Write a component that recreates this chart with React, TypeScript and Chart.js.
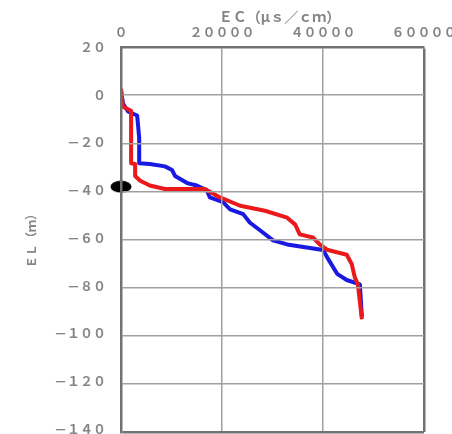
import React, { useEffect, useRef } from "react";
import { Chart, registerables } from "chart.js";

Chart.register(...registerables);

// Series values (EC in μS/cm, EL in m)
const redEC = [0, 200, 400, 2000, 2000, 2800, 2800, 3800, 5700, 8700, 16600, 19600, 23600, 28500, 32900, 34500, 35400, 38000, 39400, 40800, 44700, 45700, 46300, 46900, 47700];
const redEL = [2.5, -1.7, -5, -6.7, -28.7, -29, -34, -36, -38, -39.5, -39.5, -43, -46.5, -48.6, -51.5, -54.4, -58.5, -59.8, -62.8, -64.9, -67, -71, -76.5, -79.4, -94];

const blueEC = [0, 400, 1400, 3200, 3600, 3600, 5700, 8700, 10100, 10700, 13100, 15000, 17000, 17600, 20200, 21600, 24200, 25500, 28100, 30100, 32900, 36800, 40000, 40800, 42800, 44700, 47300, 47700];
const blueEL = [1.7, -3.7, -7, -8.7, -18, -28.7, -29, -30, -31.5, -34, -37, -38, -40, -43, -45, -48, -50, -53.5, -57.7, -61, -62.7, -64, -65, -68, -75, -77.6, -79.4, -93];

const markerEC = [0];
const markerEL = [-38.5];

// Axis ranges / tick steps
const xRange = [0, 60000];
const xStep = 20000;
const yRange = [-140, 20];
const yStep = 20;

const xTitle = "　ＥＣ（μｓ／ｃｍ）";
const yTitle = "ＥＬ（ｍ）";

const GRID = "#a0a0a0";
const FRAME = "#727272";

const toFull = (v: number) =>
  String(v)
    .split("")
    .map((c) => (c === "-" ? "－" : /[0-9]/.test(c) ? String.fromCharCode(c.charCodeAt(0) + 0xfee0) : c))
    .join("");

const pts = (xs: number[], ys: number[]) => xs.map((x, i) => ({ x, y: ys[i] }));

function makeMarker() {
  const c = document.createElement("canvas");
  c.width = 22;
  c.height = 13;
  const g = c.getContext("2d")!;
  g.fillStyle = "#000";
  g.beginPath();
  g.ellipse(11, 6.5, 10.5, 6, 0, 0, Math.PI * 2);
  g.fill();
  return c;
}

const fitX = (s: any) => {
  s.height = 47;
  s.paddingLeft = 0;
  s.paddingRight = 0;
};
const fitY = (s: any) => {
  s.width = 121;
  s.paddingTop = 0;
  s.paddingBottom = 0;
};
const LAYOUT = { padding: { top: 0, left: 0, right: 28, bottom: 2 } };

const layer: React.CSSProperties = { position: "absolute", left: 0, top: 0, width: 452, height: 434 };

export default function App() {
  const mainRef = useRef<HTMLCanvasElement>(null);
  const gridRef = useRef<HTMLCanvasElement>(null);

  useEffect(() => {
    const font = { family: "'Noto Sans CJK JP', 'Noto Sans', sans-serif", size: 13, weight: "bold" as const };
    const chart = new Chart(mainRef.current!, {
      type: "scatter",
      data: {
        datasets: [
          {
            data: pts(markerEC, markerEL),
            pointStyle: makeMarker() as any,
            showLine: false,
            clip: false as any,
          },
          {
            data: pts(redEC, redEL),
            showLine: true,
            borderColor: "rgb(235,25,25)",
            borderWidth: 4,
            pointRadius: 0,
            borderJoinStyle: "round",
          },
          {
            data: pts(blueEC, blueEL),
            showLine: true,
            borderColor: "rgb(25,25,225)",
            borderWidth: 4,
            pointRadius: 0,
            borderJoinStyle: "round",
          },
        ],
      },
      options: {
        animation: false,
        responsive: true,
        maintainAspectRatio: false,
        layout: LAYOUT,
        plugins: { legend: { display: false }, tooltip: { enabled: false } },
        scales: {
          x: {
            position: "top",
            min: xRange[0],
            max: xRange[1],
            afterFit: fitX,
            ticks: {
              stepSize: xStep,
              color: "#858585",
              font,
              padding: 7,
              maxRotation: 0,
              autoSkip: false,
              callback: (v: any) => toFull(Number(v)),
            },
            grid: { display: false, drawTicks: false },
            border: { display: false },
            title: {
              display: true,
              text: xTitle,
              color: "#858585",
              font: { ...font, size: 14 },
              padding: { top: 8, bottom: 0 },
            },
          },
          y: {
            min: yRange[0],
            max: yRange[1],
            afterFit: fitY,
            ticks: {
              stepSize: yStep,
              color: "#858585",
              font,
              padding: 15,
              autoSkip: false,
              callback: (v: any) => toFull(Number(v)),
            },
            grid: { display: false, drawTicks: false },
            border: { display: false },
            title: {
              display: true,
              text: yTitle,
              color: "#858585",
              font: { ...font, size: 12 },
              padding: { top: 24, bottom: 0 },
            },
          },
        },
      },
    });

    // Second, transparent Chart.js layer with the same scales: grid lines and plot frame
    const gridChart = new Chart(gridRef.current!, {
      type: "scatter",
      data: { datasets: [] },
      options: {
        animation: false,
        responsive: true,
        maintainAspectRatio: false,
        layout: LAYOUT,
        plugins: { legend: { display: false }, tooltip: { enabled: false } },
        scales: {
          x: {
            position: "top",
            min: xRange[0],
            max: xRange[1],
            afterFit: fitX,
            ticks: { stepSize: xStep, display: false },
            grid: {
              drawTicks: false,
              color: (c: any) => (c.tick && c.tick.value === xRange[1] ? FRAME : GRID),
              lineWidth: (c: any) => (c.tick && c.tick.value === xRange[1] ? 2.5 : 1.5),
            },
            border: { display: true, color: FRAME, width: 2.5 },
          },
          y: {
            min: yRange[0],
            max: yRange[1],
            afterFit: fitY,
            ticks: { stepSize: yStep, display: false },
            grid: {
              drawTicks: false,
              color: (c: any) => (c.tick && c.tick.value === yRange[0] ? FRAME : GRID),
              lineWidth: (c: any) => (c.tick && c.tick.value === yRange[0] ? 2.5 : 1.5),
            },
            border: { display: true, color: FRAME, width: 2.5 },
          },
        },
      },
    });

    return () => {
      chart.destroy();
      gridChart.destroy();
    };
  }, []);

  return (
    <div style={{ position: "fixed", left: 0, top: 0, width: 452, height: 434, background: "#fff" }}>
      <div style={layer}>
        <canvas ref={mainRef} />
      </div>
      <div style={{ ...layer, pointerEvents: "none" }}>
        <canvas ref={gridRef} />
      </div>
    </div>
  );
}
